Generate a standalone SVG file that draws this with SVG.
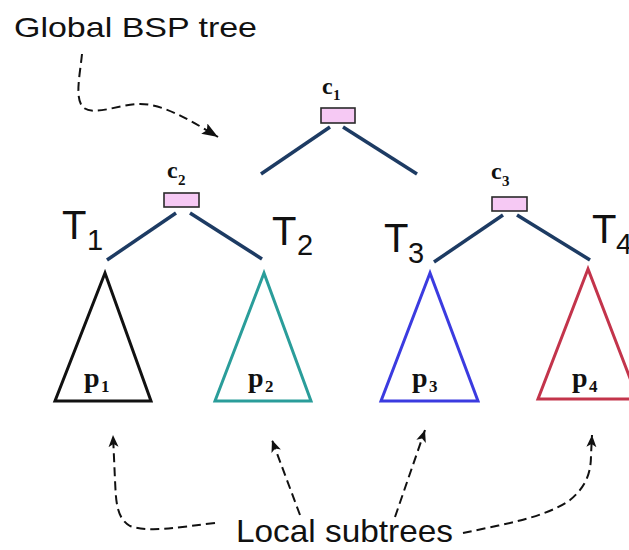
<svg xmlns="http://www.w3.org/2000/svg" width="629" height="550" viewBox="0 0 629 550">
  <style>
    .edge { stroke: #1d3b63; stroke-width: 3.5; fill: none; }
    .split { fill: #f6c9f4; stroke: #2a2a2a; stroke-width: 1.6; }
    .tri { fill: #ffffff; stroke-width: 3; }
    .call { stroke: #111111; stroke-width: 2; fill: none; stroke-dasharray: 9 5; }
    .cap { font-family: "Liberation Sans", Arial, sans-serif; fill: #111111; }
    .math { font-family: "Liberation Serif", "Times New Roman", serif; font-weight: bold; fill: #111111; }
  </style>
  <defs>
    <marker id="headBig" markerUnits="userSpaceOnUse" markerWidth="18" markerHeight="14" refX="16" refY="6" orient="auto">
      <path d="M0,0 L16,6 L0,12 L3,6 z" fill="#111111"/>
    </marker>
    <marker id="headSmall" markerUnits="userSpaceOnUse" markerWidth="14" markerHeight="12" refX="12" refY="5" orient="auto">
      <path d="M0,0 L12,5 L0,10 L3,5 z" fill="#111111"/>
    </marker>
  </defs>

  <rect width="629" height="550" fill="#ffffff"/>

  <!-- tree edges -->
  <g id="connectors">
    <line class="edge" x1="330" y1="127" x2="261" y2="174"/>
    <line class="edge" x1="343" y1="127" x2="417" y2="174"/>
    <line class="edge" x1="176" y1="213" x2="107" y2="260"/>
    <line class="edge" x1="190" y1="213" x2="262" y2="259"/>
    <line class="edge" x1="503" y1="215" x2="434" y2="262"/>
    <line class="edge" x1="517" y1="215" x2="590" y2="260"/>
  </g>

  <!-- split nodes -->
  <g id="c1">
    <rect class="split" x="321" y="108" width="34" height="15"/>
    <text class="math" x="322" y="94" font-size="24">c</text>
    <text class="math" x="333" y="100" font-size="15">1</text>
  </g>
  <g id="c2">
    <rect class="split" x="164" y="193" width="35" height="14"/>
    <text class="math" x="167" y="178" font-size="24">c</text>
    <text class="math" x="178" y="185" font-size="15">2</text>
  </g>
  <g id="c3">
    <rect class="split" x="492" y="197" width="35" height="14"/>
    <text class="math" x="491" y="179" font-size="24">c</text>
    <text class="math" x="502" y="186" font-size="15">3</text>
  </g>

  <!-- subtree labels -->
  <g id="T1">
    <text class="cap" x="62" y="239" font-size="40">T</text>
    <text class="cap" x="87" y="250" font-size="29">1</text>
  </g>
  <g id="T2">
    <text class="cap" x="272" y="245" font-size="40">T</text>
    <text class="cap" x="297" y="255" font-size="29">2</text>
  </g>
  <g id="T3">
    <text class="cap" x="384" y="252" font-size="40">T</text>
    <text class="cap" x="408" y="263" font-size="29">3</text>
  </g>
  <g id="T4">
    <text class="cap" x="592" y="243" font-size="40">T</text>
    <text class="cap" x="616" y="254" font-size="29">4</text>
  </g>

  <!-- local subtrees -->
  <g id="p1">
    <polygon class="tri" stroke="#111111" points="105,273 55,401 151,401"/>
    <text class="math" x="84" y="387" font-size="28">p</text>
    <text class="math" x="101" y="392" font-size="17">1</text>
  </g>
  <g id="p2">
    <polygon class="tri" stroke="#2a9d9a" points="264,273 215,401 311,401"/>
    <text class="math" x="248" y="387" font-size="28">p</text>
    <text class="math" x="265" y="392" font-size="17">2</text>
  </g>
  <g id="p3">
    <polygon class="tri" stroke="#3b3be0" points="430,273 381,401 478,401"/>
    <text class="math" x="412" y="387" font-size="28">p</text>
    <text class="math" x="429" y="392" font-size="17">3</text>
  </g>
  <g id="p4">
    <polygon class="tri" stroke="#c3344b" points="588,269 538,399 638,399"/>
    <text class="math" x="572" y="387" font-size="28">p</text>
    <text class="math" x="589" y="392" font-size="17">4</text>
  </g>

  <!-- callouts -->
  <g id="global-label">
    <text class="cap" x="14" y="37" font-size="28" textLength="243" lengthAdjust="spacingAndGlyphs">Global BSP tree</text>
    <path class="call" d="M82 54 C80 75 74 100 84 108 C95 116 120 104 140 104 C160 104 182 115 218 137" marker-end="url(#headBig)"/>
  </g>
  <g id="local-label">
    <text class="cap" x="236" y="542" font-size="32" textLength="217" lengthAdjust="spacingAndGlyphs">Local subtrees</text>
    <path class="call" d="M215 523 C180 527 150 533 130 526 C116 518 116 500 115 480 L113 435" marker-end="url(#headSmall)"/>
    <path class="call" d="M300 515 L272 440" marker-end="url(#headSmall)"/>
    <path class="call" d="M395 517 L425 430" marker-end="url(#headSmall)"/>
    <path class="call" d="M463 533 C500 525 545 518 570 500 C588 485 591 470 591 455 L592 435" marker-end="url(#headSmall)"/>
  </g>
</svg>
